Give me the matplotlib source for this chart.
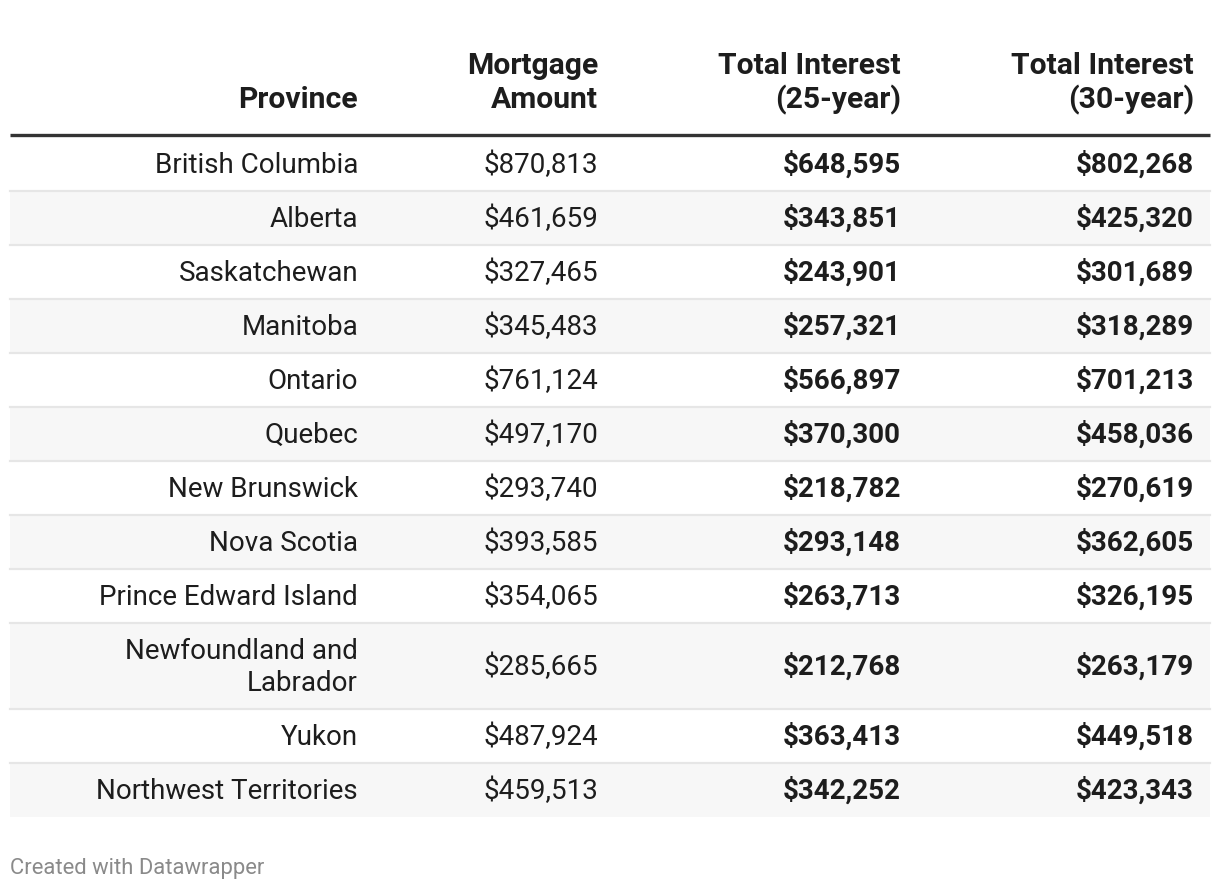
import matplotlib.pyplot as plt
from matplotlib.patches import Rectangle

plt.rcParams['font.family'] = ['Roboto', 'DejaVu Sans']

headers = ["Province", "Mortgage\nAmount", "Total Interest\n(25-year)", "Total Interest\n(30-year)"]
provinces = ["British Columbia", "Alberta", "Saskatchewan", "Manitoba", "Ontario", "Quebec",
             "New Brunswick", "Nova Scotia", "Prince Edward Island",
             "Newfoundland and\nLabrador", "Yukon", "Northwest Territories"]
mortgage = [870813, 461659, 327465, 345483, 761124, 497170, 293740, 393585, 354065, 285665, 487924, 459513]
interest_25 = [648595, 343851, 243901, 257321, 566897, 370300, 218782, 293148, 263713, 212768, 363413, 342252]
interest_30 = [802268, 425320, 301689, 318289, 701213, 458036, 270619, 362605, 326195, 263179, 449518, 423343]

W, H = 1220, 892
fig = plt.figure(figsize=(W / 100, H / 100), dpi=100)
ax = fig.add_axes([0, 0, 1, 1])
ax.set_xlim(0, W)
ax.set_ylim(H, 0)
ax.axis('off')

col_right = [358, 598, 901, 1194]
left, right = 10, 1210
txt = '#1d1d1d'
fs = 20
hfs = 21.7
line_gap = 32

# header (bottom aligned)
for x, h in zip(col_right, headers):
    lines = h.split('\n')
    for k, ln in enumerate(reversed(lines)):
        ax.text(x, 108.5 - k * 35, ln, ha='right', va='baseline', fontsize=hfs,
                fontweight='bold', color=txt)
ax.plot([left, right], [135, 135], color='#333333', lw=2.4, solid_capstyle='butt')

y = 137
for i, p in enumerate(provinces):
    nlines = len(p.split('\n'))
    h = 54 + (nlines - 1) * line_gap
    if i % 2 == 1:
        ax.add_patch(Rectangle((left, y), right - left, h, facecolor='#f7f7f7', edgecolor='none'))
    if i < len(provinces) - 1:
        ax.plot([left, right], [y + h, y + h], color='#e6e6e6', lw=1.6)
    yb = y + h / 2 + 9
    for k, ln in enumerate(p.split('\n')):
        ax.text(col_right[0], yb - (nlines - 1) * line_gap / 2 + k * line_gap, ln,
                ha='right', va='baseline', fontsize=fs, color=txt)
    ax.text(col_right[1], yb, f"${mortgage[i]:,}", ha='right', va='baseline', fontsize=fs, color=txt)
    ax.text(col_right[2], yb, f"${interest_25[i]:,}", ha='right', va='baseline', fontsize=fs,
            fontweight='bold', color=txt)
    ax.text(col_right[3], yb, f"${interest_30[i]:,}", ha='right', va='baseline', fontsize=fs,
            fontweight='bold', color=txt)
    y += h

ax.text(10, 874, "Created with Datawrapper", ha='left', va='baseline', fontsize=15.8, color='#8a8a8a')

fig.savefig('out.png', dpi=100, facecolor='white')
